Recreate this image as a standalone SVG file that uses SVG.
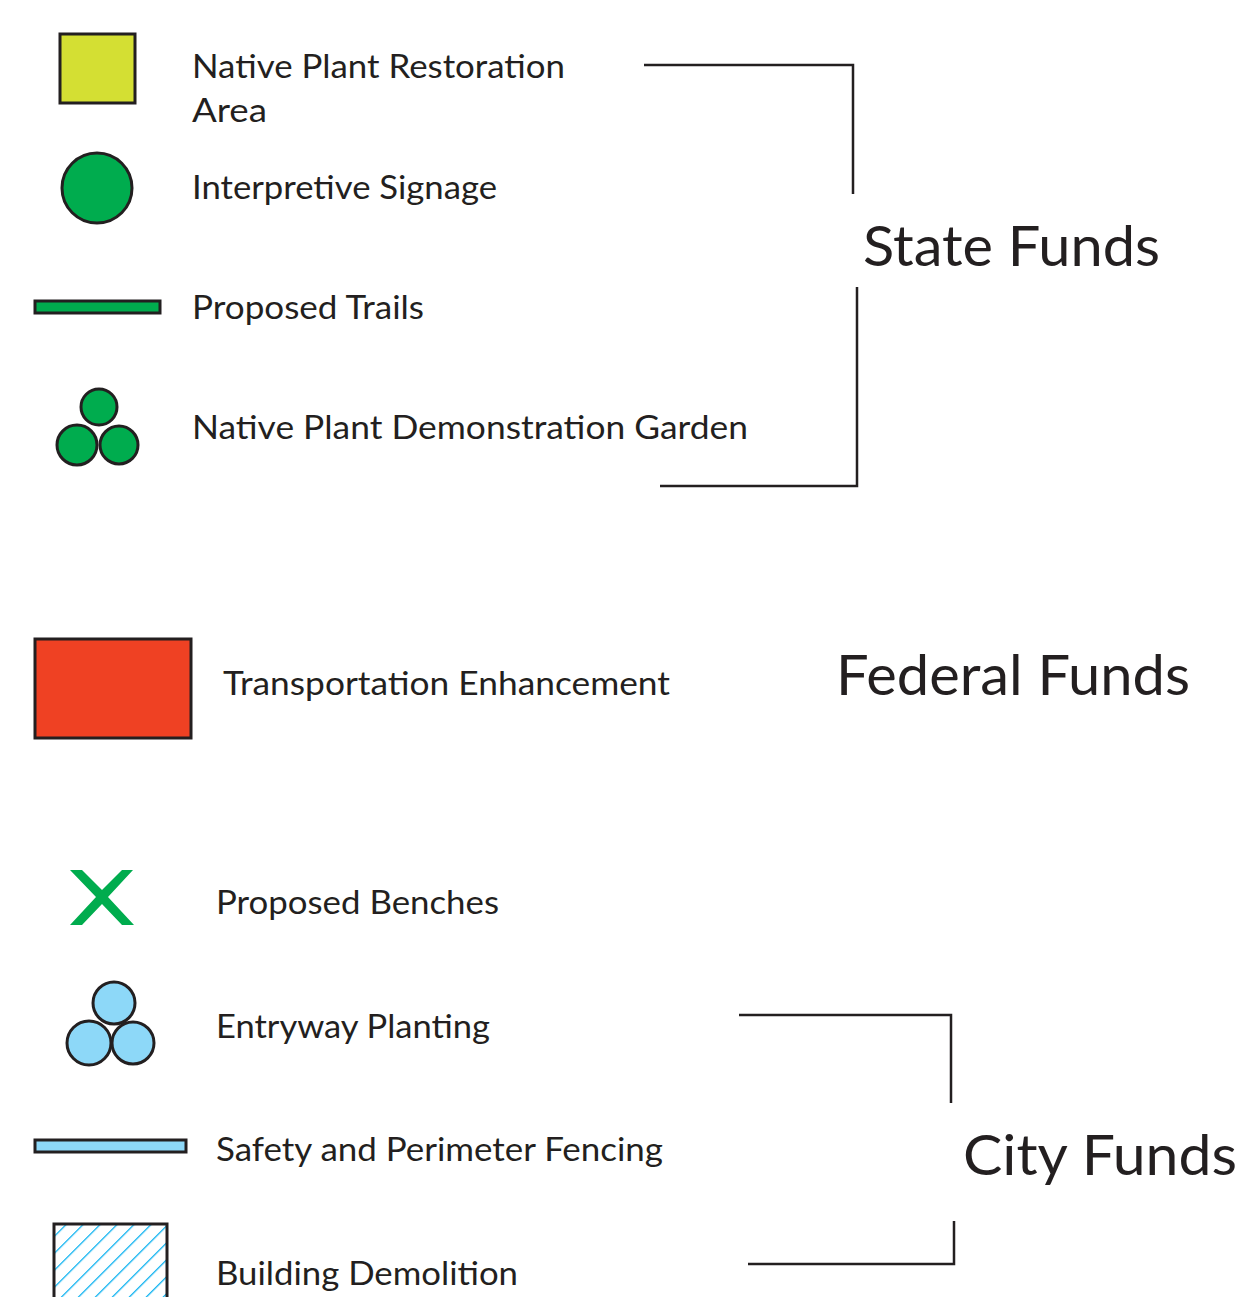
<svg xmlns="http://www.w3.org/2000/svg" width="1237" height="1297" viewBox="0 0 1237 1297">
<style>
.lbl{font-family:Lato,"Open Sans","Liberation Sans",sans-serif;font-size:32px;fill:#231f20}
.big{font-family:Lato,"Open Sans","Liberation Sans",sans-serif;font-size:57px;fill:#231f20}
.sym{stroke:#231f20;stroke-width:3}
.con{stroke:#231f20;stroke-width:2.5;fill:none}
</style>
<defs>
<pattern id="hatch" patternUnits="userSpaceOnUse" width="12" height="12" patternTransform="rotate(45)">
<rect width="12" height="12" fill="#fff"/>
<line x1="0" y1="0" x2="0" y2="12" stroke="#00aeef" stroke-width="2.5"/>
</pattern>
</defs>
<rect width="1237" height="1297" fill="#fff"/>
<g id="restoration"><rect class="sym" x="60" y="34" width="75" height="69" fill="#d4df33"/>
<text class="lbl" x="192" y="78" textLength="373" lengthAdjust="spacingAndGlyphs">Native Plant Restoration</text>
<text class="lbl" x="192" y="122" textLength="75" lengthAdjust="spacingAndGlyphs">Area</text></g>
<g id="signage"><circle class="sym" cx="97" cy="188" r="35" fill="#00ac4e"/>
<text class="lbl" x="192" y="199" textLength="305" lengthAdjust="spacingAndGlyphs">Interpretive Signage</text></g>
<g id="trails"><rect class="sym" x="35" y="301" width="125" height="12" fill="#00ac4e"/>
<text class="lbl" x="192" y="319" textLength="232" lengthAdjust="spacingAndGlyphs">Proposed Trails</text></g>
<g id="garden" fill="#00ac4e"><circle class="sym" cx="99" cy="407" r="18"/><circle class="sym" cx="77" cy="445" r="20"/><circle class="sym" cx="119" cy="445" r="19"/>
<text class="lbl" x="192" y="439" textLength="556" lengthAdjust="spacingAndGlyphs">Native Plant Demonstration Garden</text></g>
<g id="state"><text class="big" x="863" y="266" textLength="297" lengthAdjust="spacingAndGlyphs">State Funds</text></g>
<g id="transport"><rect class="sym" x="35" y="639" width="156" height="99" fill="#ef4123"/>
<text class="lbl" x="223" y="695" textLength="447" lengthAdjust="spacingAndGlyphs">Transportation Enhancement</text></g>
<g id="federal"><text class="big" x="836" y="695" textLength="354" lengthAdjust="spacingAndGlyphs">Federal Funds</text></g>
<g id="benches"><path d="M70 870 L82 870 L102 890 L122 870 L133 870 L108 897 L134 925 L122 925 L102 904 L82 925 L70 925 L96 897 Z" fill="#00ac4e"/>
<text class="lbl" x="216" y="914" textLength="283" lengthAdjust="spacingAndGlyphs">Proposed Benches</text></g>
<g id="entry" fill="#8dd8f8"><circle class="sym" cx="114" cy="1003" r="21"/><circle class="sym" cx="89" cy="1043" r="22"/><circle class="sym" cx="133" cy="1043" r="21"/>
<text class="lbl" x="216" y="1038" textLength="274" lengthAdjust="spacingAndGlyphs" fill="#231f20">Entryway Planting</text></g>
<g id="fencing"><rect class="sym" x="35" y="1140" width="151" height="12" fill="#8dd8f8"/>
<text class="lbl" x="216" y="1161" textLength="447" lengthAdjust="spacingAndGlyphs">Safety and Perimeter Fencing</text></g>
<g id="demolition"><rect class="sym" x="54" y="1224" width="113" height="90" fill="url(#hatch)"/>
<text class="lbl" x="216" y="1285" textLength="302" lengthAdjust="spacingAndGlyphs">Building Demolition</text></g>
<g id="city"><text class="big" x="963" y="1175" textLength="274" lengthAdjust="spacingAndGlyphs">City Funds</text></g>
<g id="connectors">
<polyline class="con" points="644,65 853,65 853,194"/>
<polyline class="con" points="857,287 857,486 660,486"/>
<polyline class="con" points="739,1015 951,1015 951,1103"/>
<polyline class="con" points="954,1221 954,1264 748,1264"/>
</g>
</svg>
